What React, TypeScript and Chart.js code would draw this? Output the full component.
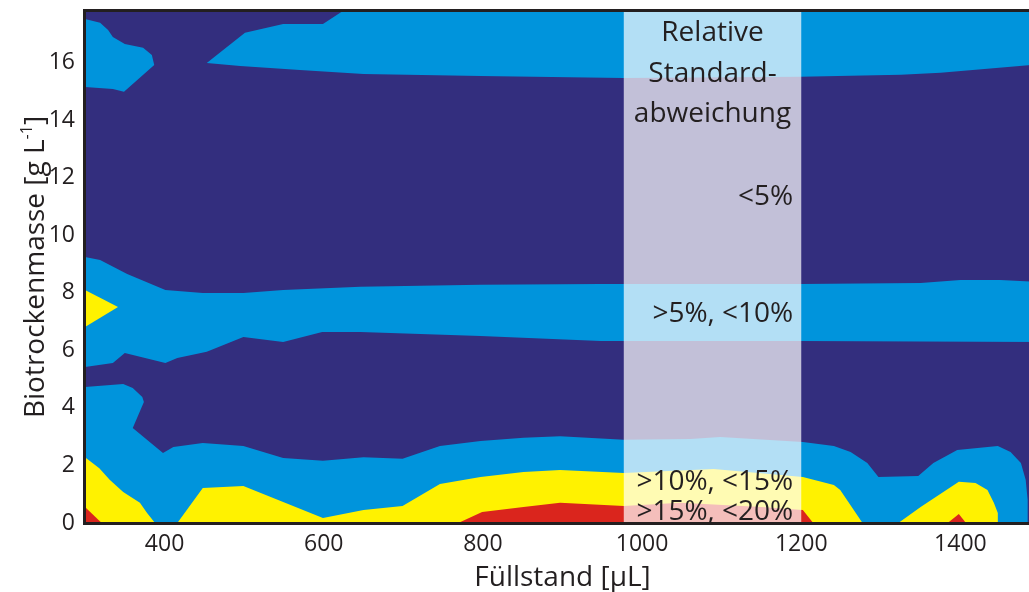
import React, { useEffect, useRef } from 'react';
import { Chart, registerables } from 'chart.js';

Chart.register(...registerables);

type Pt = [number, number];

// Achsenbereiche
const X_MIN = 300;
const X_MAX = 1500;
const Y_MIN = 0;
const Y_MAX = 17.8;

const xTicks = [400, 600, 800, 1000, 1200, 1400];
const yTicks = [0, 2, 4, 6, 8, 10, 12, 14, 16];

// Füllstand [µL] / Biotrockenmasse [g/L] – Konturgrenzen der relativen Standardabweichung

// < 5 %: gesamter Messbereich als Grundfläche
const rsdBelow5: Pt[] = [[300, 0], [1500, 0], [1500, 17.8], [300, 17.8]];

// > 5 %, < 10 %
const rsd5to10Corner: Pt[] = [
  [300, 17.52], [319, 17.39], [329, 17.14], [335, 16.9], [350, 16.65], [373, 16.52],
  [384, 16.27], [387, 15.92], [349, 14.99], [335, 15.09], [300, 15.16],
];
const rsd5to10Top: Pt[] = [
  [453, 15.99], [501, 17.04], [549, 17.35], [599, 17.35], [624, 17.8], [1500, 17.8],
  [1500, 15.95], [1375, 15.65], [1325, 15.58], [1199, 15.51], [977, 15.47], [797, 15.54],
  [650, 15.61], [570, 15.75], [495, 15.89],
];
const rsd5to10Middle: Pt[] = [
  [300, 9.25], [319, 9.14], [353, 8.66], [401, 8.1], [448, 8.0], [499, 8.0], [549, 8.1],
  [646, 8.21], [797, 8.28], [948, 8.31], [1199, 8.31], [1350, 8.34], [1400, 8.45],
  [1450, 8.45], [1500, 8.38],
  [1500, 6.29], [1199, 6.33], [948, 6.33], [797, 6.5], [646, 6.64], [598, 6.64], [549, 6.29],
  [499, 6.47], [453, 5.95], [416, 5.74], [401, 5.56], [350, 5.91], [344, 5.77], [335, 5.56],
  [300, 5.42],
];
const rsd5to10Bottom: Pt[] = [
  [300, 0], [300, 4.73], [348, 4.83], [360, 4.69], [372, 4.38], [374, 4.21], [360, 3.3],
  [398, 2.43], [411, 2.64], [448, 2.78], [499, 2.68], [549, 2.26], [599, 2.16], [650, 2.29],
  [699, 2.23], [746, 2.68], [797, 2.85], [851, 2.96], [897, 3.02], [977, 2.89], [1061, 2.92],
  [1098, 2.99], [1202, 2.82], [1241, 2.68], [1262, 2.47], [1283, 2.09], [1297, 1.6],
  [1347, 1.63], [1366, 2.09], [1396, 2.54], [1447, 2.68], [1463, 2.47], [1476, 2.09],
  [1482, 1.5], [1484.5, 0.8], [1484.5, 0],
];

// > 10 %, < 15 %
const rsd10to15Side: Pt[] = [[300, 8.1], [341.5, 7.51], [300, 6.81]];
const rsd10to15Left: Pt[] = [
  [300, 0], [300, 2.29], [318, 1.9], [331, 1.5], [348, 1.08], [369, 0.7], [378, 0.35], [388, 0],
];
const rsd10to15Center: Pt[] = [
  [416, 0], [448, 1.22], [499, 1.29], [549, 0.73], [599, 0.17], [650, 0.45], [699, 0.59],
  [746, 1.36], [797, 1.6], [851, 1.77], [897, 1.84], [977, 1.74], [1090, 1.88], [1202, 1.6],
  [1241, 1.32], [1249, 1.15], [1277, 0],
];
const rsd10to15Right: Pt[] = [
  [1322, 0], [1350, 0.56], [1398, 1.43], [1419, 1.39], [1434, 1.15], [1442, 0.7],
  [1447, 0.35], [1447, 0],
];

// > 15 %, < 20 %
const rsd15to20Left: Pt[] = [[300, 0], [300, 0.56], [321, 0]];
const rsd15to20Center: Pt[] = [
  [769, 0], [799, 0.38], [851, 0.56], [897, 0.7], [977, 0.59], [1048, 0.7], [1150, 0.56],
  [1202, 0.45], [1215, 0],
];
const rsd15to20Right: Pt[] = [[1384, 0], [1398, 0.31], [1407, 0]];

// hervorgehobener Legendenstreifen
const legendBandX = [977, 1200];

const INK = '#231f20';
const NAVY = '#332e7e';
const BLUE = '#0094dc';
const YELLOW = '#fff200';
const RED = '#da251d';
const FONT = '"Open Sans", "DejaVu Sans", sans-serif';

function region(points: Pt[], color: string, order: number) {
  return {
    data: points.map(([x, y]) => ({ x, y })),
    showLine: true,
    fill: 'shape',
    backgroundColor: color,
    borderColor: 'rgba(0,0,0,0)',
    borderWidth: 0,
    pointRadius: 0,
    pointHoverRadius: 0,
    tension: 0,
    order,
  };
}

const frameAndText = {
  id: 'frameAndText',
  afterDatasetsDraw(chart: any) {
    const { ctx, chartArea: a } = chart;
    const xs = chart.scales.x;
    ctx.save();

    // Rahmen oben, links, unten
    ctx.strokeStyle = INK;
    ctx.lineWidth = 3;
    ctx.lineJoin = 'miter';
    ctx.beginPath();
    ctx.moveTo(chart.width + 5, a.top - 0.5);
    ctx.lineTo(a.left - 0.5, a.top - 0.5);
    ctx.lineTo(a.left - 0.5, a.bottom + 0.5);
    ctx.lineTo(chart.width + 5, a.bottom + 0.5);
    ctx.stroke();

    // Beschriftung im Legendenstreifen
    const bl = xs.getPixelForValue(legendBandX[0]);
    const br = xs.getPixelForValue(legendBandX[1]);
    const cx = (bl + br) / 2;
    ctx.fillStyle = INK;
    ctx.font = `28px ${FONT}`;
    ctx.textBaseline = 'alphabetic';
    ctx.textAlign = 'center';
    ctx.fillText('Relative', cx, a.top + 30);
    ctx.fillText('Standard-', cx, a.top + 71);
    ctx.fillText('abweichung', cx, a.top + 111);
    ctx.textAlign = 'right';
    ctx.fillText('<5%', br - 8, a.top + 194);
    ctx.fillText('>5%, <10%', br - 8, a.top + 311);
    ctx.fillText('>10%, <15%', br - 8, a.top + 479);
    ctx.fillText('>15%, <20%', br - 8, a.top + 509);

    // x-Achsentitel
    ctx.textAlign = 'center';
    ctx.fillText('Füllstand [µL]', (a.left + a.right) / 2, 586);

    // y-Achsentitel mit hochgestelltem Exponenten
    const main = 'Biotrockenmasse [g L';
    const sup = '-1';
    const close = ']';
    ctx.font = `28px ${FONT}`;
    const wMain = ctx.measureText(main).width;
    const wClose = ctx.measureText(close).width;
    ctx.font = `16px ${FONT}`;
    const wSup = ctx.measureText(sup).width;
    const total = wMain + wSup + wClose;
    ctx.translate(44, (a.top + a.bottom) / 2);
    ctx.rotate(-Math.PI / 2);
    ctx.textAlign = 'left';
    let x0 = -total / 2;
    ctx.font = `28px ${FONT}`;
    ctx.fillText(main, x0, 0);
    x0 += wMain;
    ctx.font = `16px ${FONT}`;
    ctx.fillText(sup, x0, -12);
    x0 += wSup;
    ctx.font = `28px ${FONT}`;
    ctx.fillText(close, x0, 0);

    ctx.restore();
  },
};

export default function App() {
  const ref = useRef<HTMLCanvasElement | null>(null);

  useEffect(() => {
    if (!ref.current) return;
    const band: Pt[] = [
      [legendBandX[0], Y_MIN], [legendBandX[1], Y_MIN],
      [legendBandX[1], Y_MAX], [legendBandX[0], Y_MAX],
    ];
    const datasets: any[] = [
      region(rsdBelow5, NAVY, 10),
      region(rsd5to10Corner, BLUE, 8),
      region(rsd5to10Top, BLUE, 8),
      region(rsd5to10Middle, BLUE, 8),
      region(rsd5to10Bottom, BLUE, 8),
      region(rsd10to15Side, YELLOW, 6),
      region(rsd10to15Left, YELLOW, 6),
      region(rsd10to15Center, YELLOW, 6),
      region(rsd10to15Right, YELLOW, 6),
      region(rsd15to20Left, RED, 4),
      region(rsd15to20Center, RED, 4),
      region(rsd15to20Right, RED, 4),
      region(band, 'rgba(255,255,255,0.7)', 2),
    ];

    const tickFont = { family: FONT, size: 23 };
    const chart = new Chart(ref.current, {
      type: 'scatter',
      data: { datasets },
      options: {
        animation: false,
        responsive: false,
        devicePixelRatio: 1,
        events: [],
        layout: { padding: { top: 11, left: 0, right: 0, bottom: 0 } },
        plugins: {
          legend: { display: false },
          tooltip: { enabled: false },
        },
        scales: {
          x: {
            type: 'linear',
            min: X_MIN,
            max: X_MAX,
            grid: { display: false, drawTicks: false },
            border: { display: false },
            afterBuildTicks: (s: any) => { s.ticks = xTicks.map((value) => ({ value })); },
            afterFit: (s: any) => {
              s.height = 69;
              s.paddingLeft = 0;
              s.paddingRight = 0;
            },
            ticks: {
              font: tickFont,
              color: INK,
              padding: 8,
              maxRotation: 0,
              autoSkip: false,
              callback: (v: any) => String(v),
            },
          },
          y: {
            type: 'linear',
            min: Y_MIN,
            max: Y_MAX,
            grid: { display: false, drawTicks: false },
            border: { display: false },
            afterBuildTicks: (s: any) => { s.ticks = yTicks.map((value) => ({ value })); },
            afterFit: (s: any) => {
              s.width = 85;
              s.paddingTop = 0;
              s.paddingBottom = 0;
            },
            ticks: {
              font: tickFont,
              color: INK,
              padding: 10,
              autoSkip: false,
              callback: (v: any) => String(v),
            },
          },
        },
      } as any,
      plugins: [frameAndText],
    });
    return () => chart.destroy();
  }, []);

  return (
    <div
      style={{
        position: 'fixed',
        left: 0,
        top: 0,
        width: 1029,
        height: 592,
        overflow: 'hidden',
        background: '#ffffff',
      }}
    >
      <canvas ref={ref} width={1040} height={592} style={{ display: 'block' }} />
    </div>
  );
}
